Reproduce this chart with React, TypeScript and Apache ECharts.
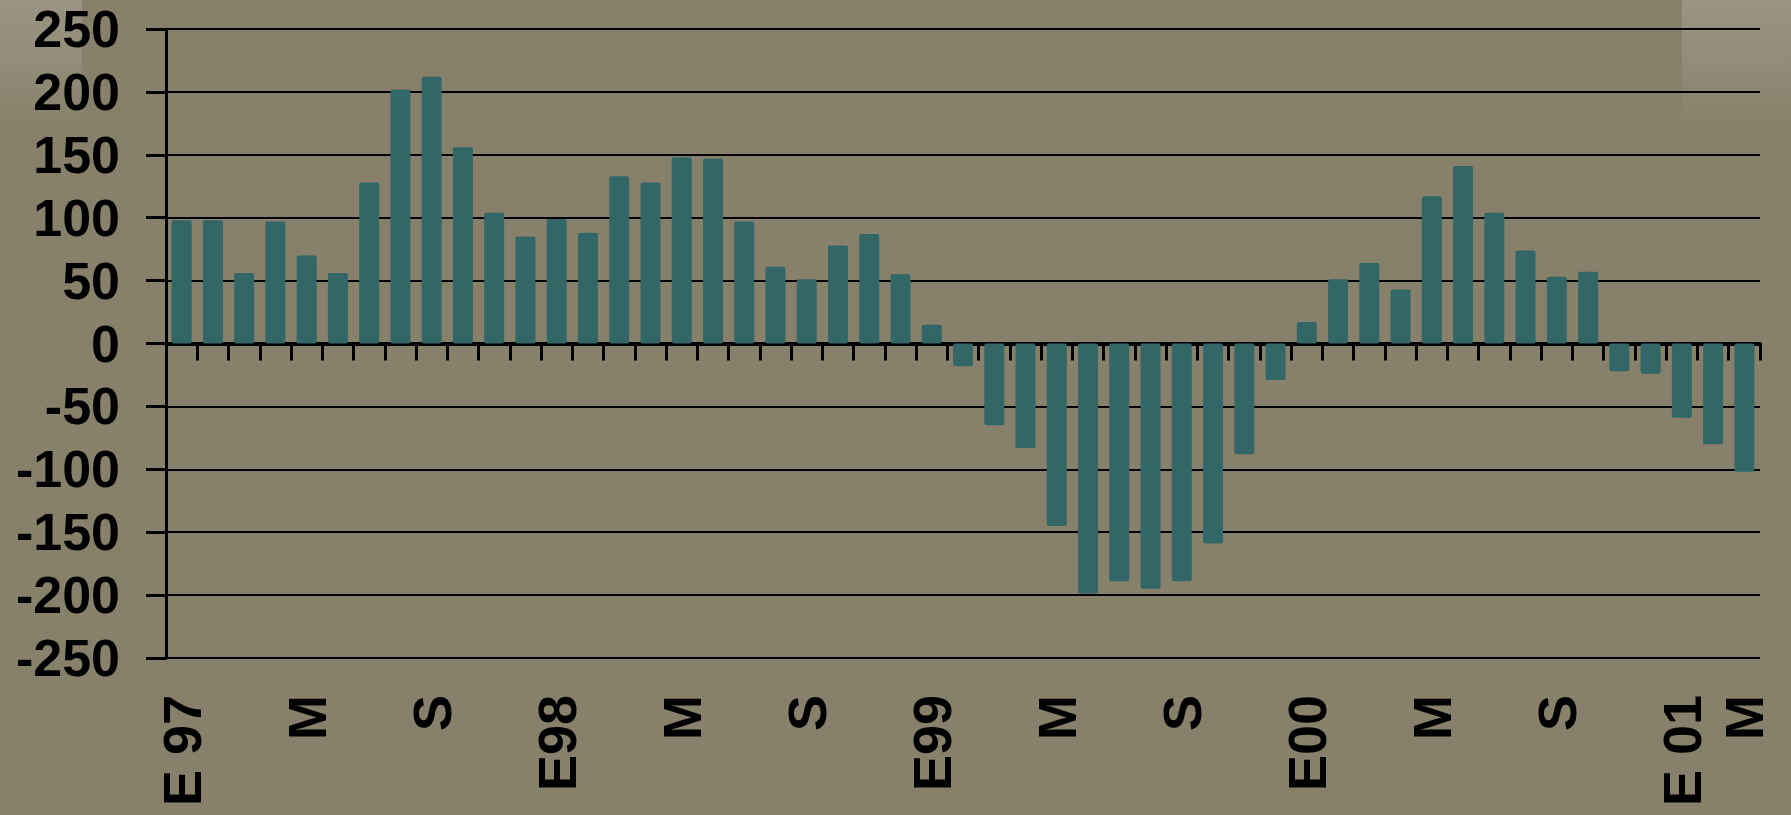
import React, { useEffect, useRef } from "react";
import * as echarts from "echarts";

// Monthly categories, Jan 1997 – Mar 2001 (Spanish month initials)
const categories: string[] = [
  "E 97", "F", "M", "A", "M", "J", "J", "A", "S", "O", "N", "D",
  "E98", "F", "M", "A", "M", "J", "J", "A", "S", "O", "N", "D",
  "E99", "F", "M", "A", "M", "J", "J", "A", "S", "O", "N", "D",
  "E00", "F", "M", "A", "M", "J", "J", "A", "S", "O", "N", "D",
  "E 01", "F", "M",
];

const values: number[] = [
  98, 98, 56, 97, 70, 56, 128, 202, 212, 156, 104, 85,
  99, 88, 133, 128, 148, 147, 97, 61, 51, 78, 87, 55,
  15, -18, -65, -83, -145, -199, -189, -195, -189, -159, -88, -29,
  17, 51, 64, 43, 117, 141, 104, 74, 53, 57, -22, -24,
  -59, -80, -102,
];

// indices of category labels shown on the axis
const shownLabels: number[] = [0, 4, 8, 12, 16, 20, 24, 28, 32, 36, 40, 44, 48, 50];

const yMin = -250;
const yMax = 250;
const yStep = 50;

const FONT = "'Liberation Sans', Arial, Helvetica, sans-serif";

export default function App() {
  const ref = useRef<HTMLDivElement>(null);

  useEffect(() => {
    if (!ref.current) return;
    const chart = echarts.init(ref.current, undefined, { renderer: "svg" });
    chart.setOption({
      animation: false,
      backgroundColor: "#87816B",
      graphic: {
        elements: [
          {
            type: "rect",
            z: -10,
            shape: { x: 0, y: 0, width: 82, height: 130 },
            style: {
              fill: new echarts.graphic.LinearGradient(0, 0, 0, 1, [
                { offset: 0, color: "rgba(255,255,255,0.16)" },
                { offset: 1, color: "rgba(255,255,255,0)" },
              ]),
            },
          },
          {
            type: "rect",
            z: -10,
            shape: { x: 1682, y: 0, width: 109, height: 130 },
            style: {
              fill: new echarts.graphic.LinearGradient(0, 0, 0, 1, [
                { offset: 0, color: "rgba(255,255,255,0.16)" },
                { offset: 1, color: "rgba(255,255,255,0)" },
              ]),
            },
          },
        ],
      },
      grid: {
        left: 166,
        right: 31,
        top: 29,
        bottom: 157,
        containLabel: false,
      },
      xAxis: [
        {
          type: "category",
          data: categories,
          boundaryGap: true,
          position: "bottom",
          axisLine: { onZero: true, lineStyle: { color: "#000", width: 4 } },
          axisTick: {
            show: true,
            interval: 0,
            length: 17,
            lineStyle: { color: "#000", width: 3 },
          },
          axisLabel: { show: false },
          splitLine: { show: false },
        },
        {
          type: "category",
          data: categories,
          boundaryGap: true,
          position: "bottom",
          axisLine: { show: false, onZero: false },
          axisTick: { show: false },
          splitLine: { show: false },
          axisLabel: {
            show: true,
            rotate: 90,
            margin: 37,
            interval: (i: number) => shownLabels.indexOf(i) >= 0,
            color: "#000",
            fontSize: 54,
            fontWeight: "bold",
            fontFamily: FONT,
          },
        },
      ],
      yAxis: {
        type: "value",
        min: yMin,
        max: yMax,
        interval: yStep,
        axisLine: { show: true, lineStyle: { color: "#000", width: 3 } },
        axisTick: {
          show: true,
          inside: false,
          length: 20,
          lineStyle: { color: "#000", width: 3 },
        },
        splitLine: { show: true, lineStyle: { color: "#000", width: 2 } },
        axisLabel: {
          color: "#000",
          fontSize: 52,
          fontWeight: "bold",
          fontFamily: FONT,
          margin: 46,
        },
      },
      series: [
        {
          type: "bar",
          xAxisIndex: 0,
          data: values,
          barWidth: 20,
          itemStyle: { color: "#336666", borderRadius: 2 },
        },
      ],
    });
    return () => chart.dispose();
  }, []);

  return (
    <div
      ref={ref}
      style={{ position: "fixed", left: 0, top: 0, width: 1791, height: 815 }}
    />
  );
}
